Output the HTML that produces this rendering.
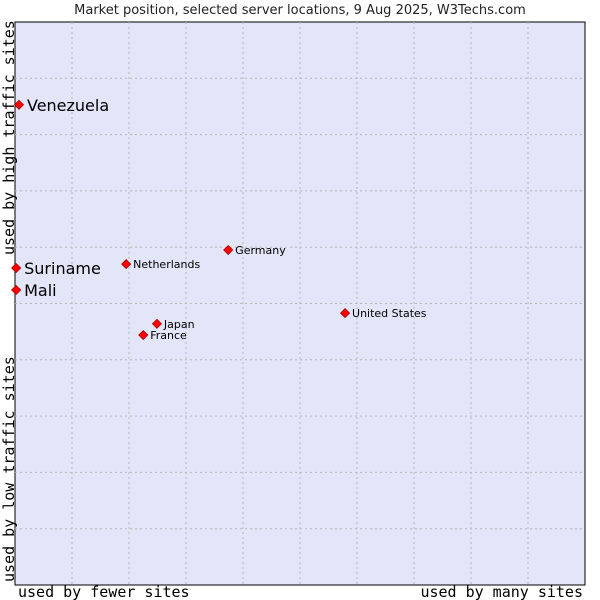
<!DOCTYPE html>
<html><head><meta charset="utf-8"><style>
body{margin:0;background:#fff}
svg{display:block}
</style></head><body>
<svg id="chart" width="600" height="600" viewBox="0 0 600 600" xmlns="http://www.w3.org/2000/svg">
<text x="300" y="14" text-anchor="middle" font-family="DejaVu Sans, sans-serif" font-size="13" fill="#222">Market position, selected server locations, 9 Aug 2025, W3Techs.com</text>
<rect x="15" y="22" width="570" height="563" fill="#e3e5f8" stroke="#000" stroke-width="1"/>
<g id="grid"></g>
<text transform="translate(14,255) rotate(-90)" font-family="DejaVu Sans Mono, monospace" font-size="15" fill="#000">used by high traffic sites</text>
<text transform="translate(14,582) rotate(-90)" font-family="DejaVu Sans Mono, monospace" font-size="15" fill="#000">used by low traffic sites</text>
<text x="18" y="597" font-family="DejaVu Sans Mono, monospace" font-size="15" fill="#000">used by fewer sites</text>
<text x="583" y="597" text-anchor="end" font-family="DejaVu Sans Mono, monospace" font-size="15" fill="#000">used by many sites</text>
<g id="points"></g>
</svg>
<script>
const countries = ["Venezuela","Suriname","Mali","Netherlands","Germany","United States","Japan","France"];
const xValues = [0.7,0.2,0.2,19.5,37.4,57.9,24.9,22.5];
const yValues = [85.3,56.3,52.4,57.0,59.5,48.3,46.4,44.4];
const highlighted = [true,true,true,false,false,false,false,false];
const NS="http://www.w3.org/2000/svg";
const X0=15,X1=585,Y0=585,Y1=22;
function xs(v){return X0+v/100*(X1-X0);}
function ys(v){return Y0-v/100*(Y0-Y1);}
const grid=document.getElementById('grid');
for(let i=1;i<10;i++){
  const vl=document.createElementNS(NS,'line');
  
  
  vl.setAttribute('x1',xs(i*10));vl.setAttribute('x2',xs(i*10));
  vl.setAttribute('y1',Y1);vl.setAttribute('y2',Y0);
  vl.setAttribute('stroke','#b8b8b8');vl.setAttribute('stroke-dasharray','2,3');
  grid.appendChild(vl);
  const hl=document.createElementNS(NS,'line');
  
  
  hl.setAttribute('y1',ys(i*10));hl.setAttribute('y2',ys(i*10));
  hl.setAttribute('x1',X0);hl.setAttribute('x2',X1);
  hl.setAttribute('stroke','#b8b8b8');hl.setAttribute('stroke-dasharray','2,3');
  grid.appendChild(hl);
}
const pts=document.getElementById('points');
countries.forEach((c,i)=>{
  const x=xs(xValues[i]),y=ys(yValues[i]);
  const m=document.createElementNS(NS,'path');
  
  
  m.setAttribute('d',`M${x} ${y-4.5}L${x+4.5} ${y}L${x} ${y+4.5}L${x-4.5} ${y}Z`);
  m.setAttribute('fill','#ff0000');m.setAttribute('stroke','#a00');m.setAttribute('stroke-width','0.8');
  pts.appendChild(m);
  const t=document.createElementNS(NS,'text');
  
  
  const big=highlighted[i];
  t.setAttribute('x',x+(big?8:7));
  t.setAttribute('y',y+(big?6:4));
  t.setAttribute('font-family','DejaVu Sans, sans-serif');
  t.setAttribute('font-size',big?16:11);
  t.setAttribute('fill','#000');
  t.textContent=c;
  pts.appendChild(t);
});
</script>
</body></html>
